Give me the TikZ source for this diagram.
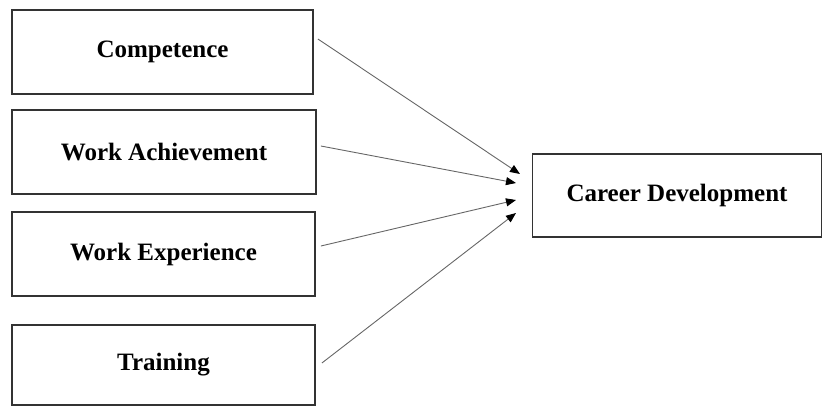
\documentclass[tikz,border=0pt]{standalone}
\usepackage{fontspec}
\setmainfont{Liberation Serif}
\usetikzlibrary{arrows.meta}
\begin{document}
\begin{tikzpicture}[x=1pt,y=-1pt,
  varbox/.style={draw=black!80,line width=1.8pt,minimum height=84pt,inner sep=0pt,
    font=\fontsize{25}{30}\selectfont\bfseries},
  link/.style={draw=black!60,line width=0.9pt,-{Triangle[length=10pt,width=8pt,color=black]}}]
\useasboundingbox (0,0) rectangle (824,408);
\node[varbox,minimum width=301pt] (comp) at (162.5,52) {Competence};
\node[varbox,minimum width=304pt] (ach) at (164,152) {Work Achievement};
\node[varbox,minimum width=303pt] (exp) at (163.5,254) {Work Experience};
\node[varbox,minimum width=303pt,minimum height=80pt] (train) at (163.5,365) {Training};
\node[varbox,minimum width=289pt,minimum height=83pt] (career) at (677,195.5) {Career Development};
\coordinate (t1) at (520,174);
\coordinate (t2) at (516,183);
\coordinate (t3) at (516,200);
\coordinate (t4) at (516,213);
\draw[link] ([yshift=13pt]comp.east) ++(4pt,0) -- (t1);
\draw[link] ([yshift=6pt]ach.east) ++(4pt,0) -- (t2);
\draw[link] ([yshift=8pt]exp.east) ++(5pt,0) -- (t3);
\draw[link] ([yshift=2pt]train.east) ++(6pt,0) -- (t4);
\end{tikzpicture}
\end{document}
